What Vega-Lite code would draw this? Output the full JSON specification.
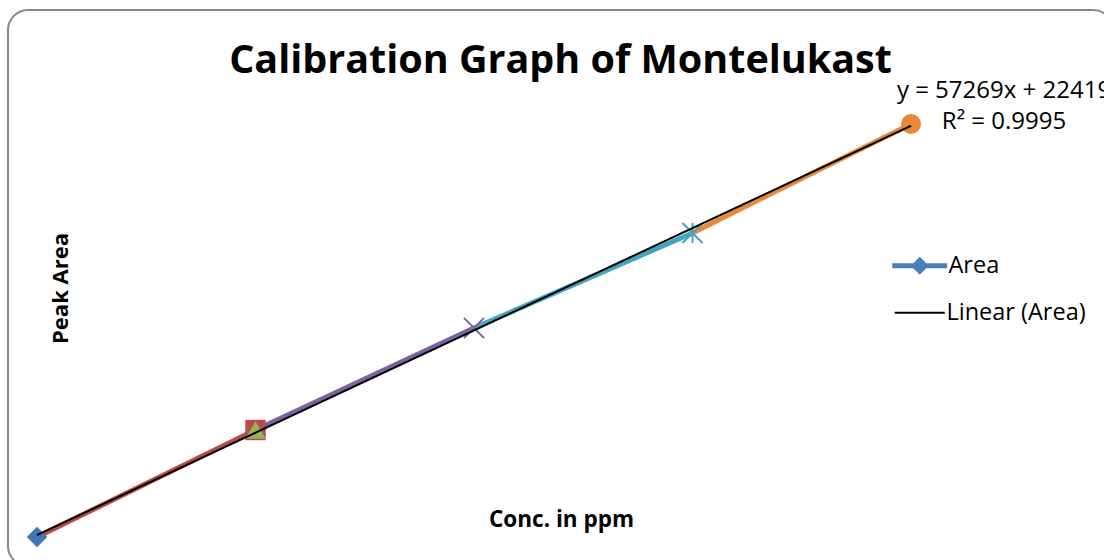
{
  "$schema": "https://vega.github.io/schema/vega-lite/v6.json",
  "autosize": "none",
  "width": 1105,
  "height": 556,
  "padding": {"left": 8, "top": 10, "right": -9, "bottom": -6},
  "background": "white",
  "config": {
    "view": {"stroke": "#888888", "strokeWidth": 2, "cornerRadius": 20, "fill": "white"},
    "font": "Open Sans",
    "legend": {
      "orient": "none", "title": null,
      "padding": 0, "labelFont": "Open Sans", "labelFontSize": 23.5, "labelColor": "black",
      "symbolSize": 324, "symbolOpacity": 1, "labelOffset": 17, "rowPadding": 0
    }
  },
  "resolve": {"scale": {"shape": "independent", "strokeDash": "independent"}},
  "title": {
    "text": "Calibration Graph of Montelukast",
    "font": "Open Sans",
    "fontSize": 39.5,
    "fontWeight": "bold",
    "color": "black",
    "anchor": "middle",
    "frame": "group",
    "baseline": "alphabetic",
    "offset": -102
  },
  "datasets": {
    "points": [
      {"series": "Area", "pt": 1, "conc": 10, "area": 583900},
      {"series": "Area", "pt": 2, "conc": 20, "area": 1182900},
      {"series": "Area", "pt": 3, "conc": 20, "area": 1182900},
      {"series": "Area", "pt": 4, "conc": 30, "area": 1753900},
      {"series": "Area", "pt": 5, "conc": 40, "area": 2285800},
      {"series": "Area", "pt": 6, "conc": 50, "area": 2895900}
    ],
    "segments": [
      {"pt": 2, "conc": 10, "area": 583900, "conc2": 20, "area2": 1182900},
      {"pt": 3, "conc": 20, "area": 1182900, "conc2": 20, "area2": 1182900},
      {"pt": 4, "conc": 20, "area": 1182900, "conc2": 30, "area2": 1753900},
      {"pt": 5, "conc": 30, "area": 1753900, "conc2": 40, "area2": 2285800},
      {"pt": 6, "conc": 40, "area": 2285800, "conc2": 50, "area2": 2895900}
    ],
    "trend": [
      {"series": "Linear (Area)", "conc": 10, "area": 595109},
      {"series": "Linear (Area)", "conc": 50, "area": 2885869}
    ]
  },
  "encoding": {
    "x": {
      "field": "conc", "type": "quantitative",
      "scale": {"domain": [8.6728, 59.245], "nice": false, "zero": false},
      "axis": {
        "labels": false, "ticks": false, "domain": false, "grid": false,
        "title": "Conc. in ppm", "titleFont": "Open Sans", "titleFontSize": 22.5, "titleFontWeight": "bold",
        "titleColor": "black", "titleBaseline": "middle", "titleX": 553, "titleY": -47
      }
    },
    "y": {
      "field": "area", "type": "quantitative",
      "scale": {"domain": [421629, 3534117], "nice": false, "zero": false},
      "axis": {
        "labels": false, "ticks": false, "domain": false, "grid": false,
        "title": "Peak Area", "titleFont": "Open Sans", "titleFontSize": 22, "titleFontWeight": "bold",
        "titleColor": "black", "titleBaseline": "middle", "titleAlign": "center", "titleAngle": -90,
        "titleX": 52, "titleY": 278
      }
    }
  },
  "layer": [
    {
      "data": {"name": "segments"},
      "mark": {"type": "rule", "strokeWidth": 5, "strokeCap": "round"},
      "encoding": {
        "x2": {"field": "conc2"},
        "y2": {"field": "area2"},
        "color": {
          "field": "pt", "type": "nominal",
          "scale": {"domain": [1, 2, 3, 4, 5, 6], "range": ["#4175B4", "#BA4B4B", "#90B655", "#7B62A3", "#42A6C3", "#E8893A"]},
          "legend": null
        }
      }
    },
    {
      "data": {"name": "points"},
      "transform": [{"filter": "datum.pt == 1 || datum.pt == 2 || datum.pt == 3 || datum.pt == 6"}],
      "mark": {"type": "point", "filled": true, "opacity": 1, "strokeWidth": 0},
      "encoding": {
        "color": {"field": "pt", "type": "nominal", "legend": null},
        "shape": {
          "field": "pt", "type": "nominal",
          "scale": {"domain": [1, 2, 3, 4, 5, 6], "range": ["diamond", "square", "triangle-up", "M-1,-1L1,1M-1,1L1,-1", "M-1,-1L1,1M-1,1L1,-1M0,-1L0,1", "circle"]},
          "legend": null
        },
        "size": {
          "field": "pt", "type": "nominal",
          "scale": {"domain": [1, 2, 3, 4, 5, 6], "range": [420, 400, 330, 324, 324, 380]},
          "legend": null
        }
      }
    },
    {
      "data": {"name": "points"},
      "transform": [{"filter": "datum.pt == 4 || datum.pt == 5"}],
      "mark": {"type": "point", "filled": false, "opacity": 1, "strokeWidth": 2},
      "encoding": {
        "color": {"field": "pt", "type": "nominal", "legend": null},
        "shape": {
          "field": "pt", "type": "nominal",
          "scale": {"domain": [1, 2, 3, 4, 5, 6], "range": ["diamond", "square", "triangle-up", "M-1,-1L1,1M-1,1L1,-1", "M-1,-1L1,1M-1,1L1,-1M0,-1L0,1", "circle"]},
          "legend": null
        },
        "size": {"field": "pt", "type": "nominal", "legend": null}
      }
    },
    {
      "data": {"name": "points"},
      "mark": {"type": "point", "filled": false, "color": "#4A7EBB", "strokeWidth": 5, "opacity": 0, "size": 324},
      "encoding": {
        "shape": {
          "field": "series", "type": "nominal",
          "scale": {"domain": ["Area"], "range": ["M-3.05,0H3.05M0,-0.6L0.6,0L0,0.6L-0.6,0ZM0,-0.35V0.35"]},
          "legend": {
            "legendX": 900, "legendY": 244,
            "symbolFillColor": "#4A7EBB", "symbolStrokeColor": "#4A7EBB", "symbolStrokeWidth": 5
          }
        }
      }
    },
    {
      "data": {"name": "trend"},
      "mark": {"type": "line", "color": "black", "strokeWidth": 2},
      "encoding": {
        "strokeDash": {
          "field": "series", "type": "nominal",
          "scale": {"domain": ["Linear (Area)"], "range": [[1, 0]]},
          "legend": {
            "legendX": 900, "legendY": 291, "labelOffset": 15,
            "symbolType": "M-2.78,0H2.78", "symbolStrokeColor": "#000000", "symbolStrokeWidth": 1.8
          }
        }
      }
    },
    {
      "data": {"name": "trend"},
      "transform": [{"filter": "datum.conc == 50"}],
      "mark": {
        "type": "text", "font": "Open Sans", "fontSize": 24, "color": "black",
        "align": "center", "baseline": "alphabetic", "dx": 93, "dy": -28,
        "lineBreak": "\n", "lineHeight": 31
      },
      "encoding": {
        "text": {"value": "y = 57269x + 22419\nR² = 0.9995"}
      }
    }
  ]
}
